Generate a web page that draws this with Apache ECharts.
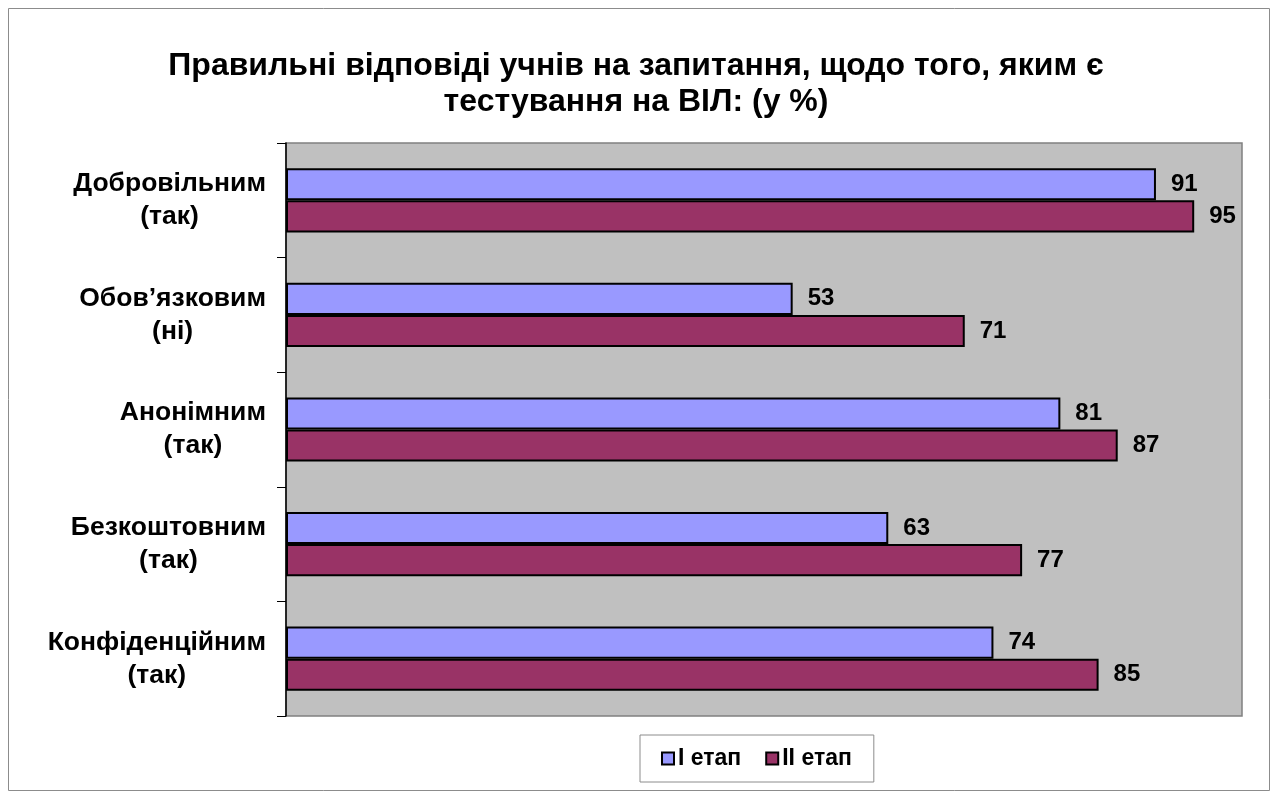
<!DOCTYPE html>
<html>
<head>
<meta charset="utf-8">
<script src="https://cdn.jsdelivr.net/npm/echarts@6/dist/echarts.min.js"></script>
<style>
  html, body { margin: 0; padding: 0; background: #fff; }
  #chart { width: 1272px; height: 792px; }
</style>
</head>
<body>
<div id="chart"></div>
<script>
const categories = [
  'Добровільним\n(так)',
  'Обов’язковим\n(ні)',
  'Анонімним\n(так)',
  'Безкоштовним\n(так)',
  'Конфіденційним\n(так)',
];
const stage1 = [91, 53, 81, 63, 74];
const stage2 = [95, 71, 87, 77, 85];
const seriesNames = ['I етап', 'II етап'];

const font = '"Liberation Sans", Arial, sans-serif';

const chart = echarts.init(document.getElementById('chart'));

const labelStyle = {
  show: true,
  position: 'right',
  distance: 15,
  color: '#000',
  fontFamily: font,
  fontWeight: 'bold',
  fontSize: 24,
};

const option = {
  backgroundColor: '#fff',
  animation: false,
  title: {
    text: 'Правильні відповіді учнів на запитання, щодо того, яким є\nтестування на ВІЛ: (у %)',
    left: 'center',
    top: 43,
    textStyle: {
      fontFamily: font,
      fontWeight: 'bold',
      fontSize: 32,
      lineHeight: 36,
      color: '#000',
    },
  },
  graphic: [
    {
      type: 'rect',
      shape: { x: 8.5, y: 8.5, width: 1261, height: 782 },
      style: { fill: 'none', stroke: '#8c8c8c', lineWidth: 1 },
      silent: true,
    },
  ],
  legend: {
    data: seriesNames,
    left: 640,
    top: 735,
    padding: [12, 22, 12, 21],
    itemGap: 24,
    itemWidth: 12,
    itemHeight: 12,
    borderColor: '#8c8c8c',
    borderWidth: 1,
    backgroundColor: '#fff',
    icon: 'rect',
    textStyle: {
      fontFamily: font,
      fontWeight: 'bold',
      fontSize: 23,
      color: '#000',
      padding: [0, 0, 0, -1],
    },
  },
  grid: {
    left: 286,
    top: 143,
    right: 30,
    bottom: 76,
    show: true,
    backgroundColor: '#c0c0c0',
    borderColor: '#808080',
    borderWidth: 1.5,
  },
  xAxis: {
    type: 'value',
    min: 0,
    max: 100,
    axisLine: { show: false },
    axisTick: { show: false },
    axisLabel: { show: false },
    splitLine: { show: false },
  },
  yAxis: {
    type: 'category',
    data: categories,
    inverse: true,
    axisLine: { show: true, lineStyle: { color: '#000', width: 1.5 } },
    axisTick: { show: true, length: 9, lineStyle: { color: '#000', width: 1 } },
    axisLabel: {
      margin: 20,
      formatter: (v) => v.split('\n').map((s) => `{c|${s}}`).join('\n'),
      rich: {
        c: {
          align: 'center',
          fontFamily: font,
          fontWeight: 'bold',
          fontSize: 26.5,
          lineHeight: 33,
          color: '#000',
        },
      },
    },
  },
  series: [
    {
      name: seriesNames[0],
      type: 'bar',
      data: stage1,
      barGap: '0%',
      barCategoryGap: '44%',
      itemStyle: { color: '#9999ff', borderColor: '#000', borderWidth: 2 },
      label: labelStyle,
    },
    {
      name: seriesNames[1],
      type: 'bar',
      data: stage2,
      barGap: '0%',
      barCategoryGap: '44%',
      itemStyle: { color: '#993366', borderColor: '#000', borderWidth: 2 },
      label: labelStyle,
    },
  ],
};

chart.setOption(option);
</script>
</body>
</html>
